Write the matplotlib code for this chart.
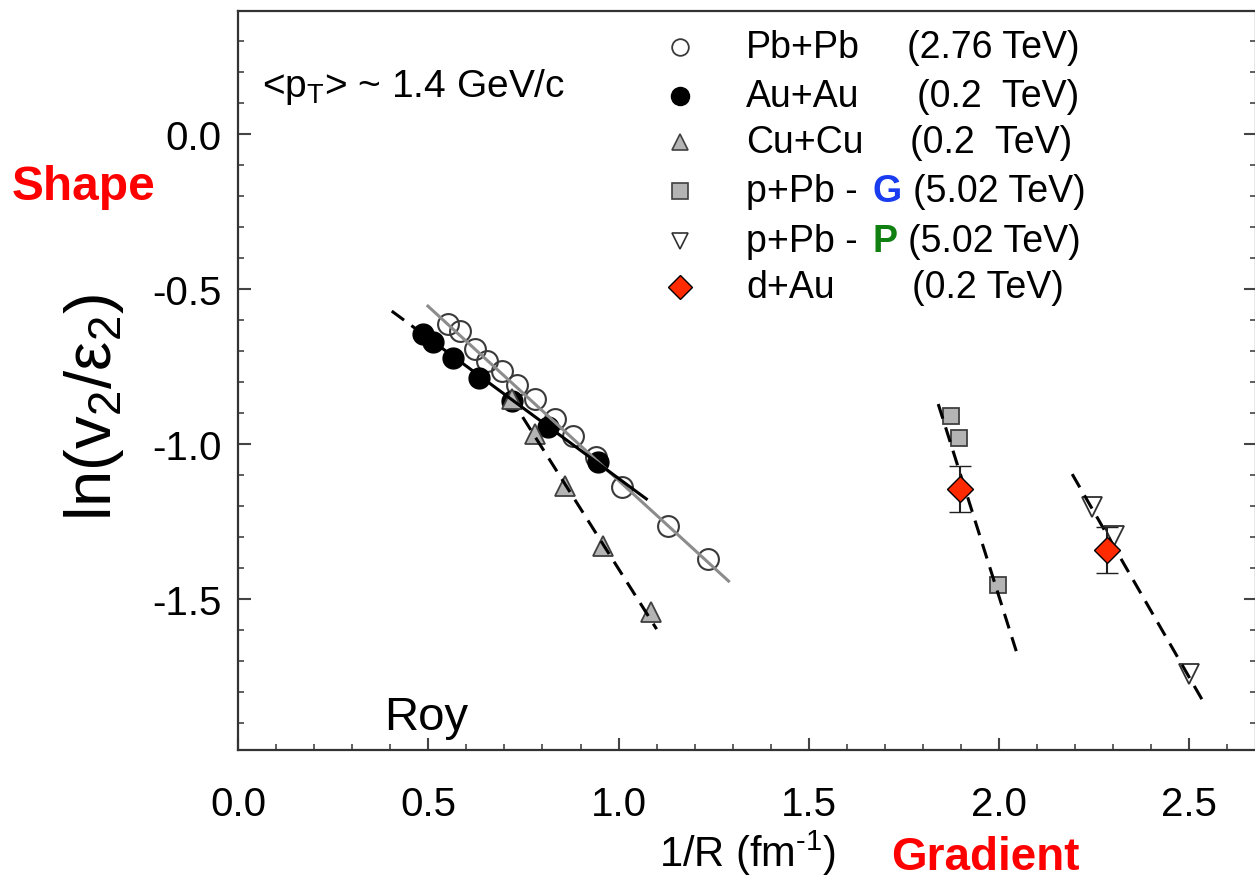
import numpy as np
import matplotlib
matplotlib.use("Agg")
import matplotlib.pyplot as plt
from matplotlib.ticker import MultipleLocator, FormatStrFormatter

plt.rcParams['font.family'] = ['Liberation Sans', 'DejaVu Sans']
plt.rcParams['mathtext.fontset'] = 'custom'
plt.rcParams['mathtext.rm'] = 'Liberation Sans'
plt.rcParams['mathtext.it'] = 'Liberation Sans:italic'
plt.rcParams['axes.unicode_minus'] = False

# Pb+Pb (2.76 TeV)
pbpb_x = [0.551, 0.583, 0.622, 0.654, 0.693, 0.732, 0.780, 0.832, 0.879, 0.942, 1.008, 1.129, 1.234]
pbpb_y = [-0.613, -0.635, -0.694, -0.732, -0.765, -0.810, -0.855, -0.919, -0.974, -1.042, -1.139, -1.265, -1.371]
pbpb_fit_x = [0.499, 1.289]
pbpb_fit_y = [-0.555, -1.442]

# Au+Au (0.2 TeV)
auau_x = [0.486, 0.512, 0.564, 0.633, 0.719, 0.814, 0.945]
auau_y = [-0.645, -0.671, -0.723, -0.787, -0.861, -0.945, -1.058]
auau_fit_x = [0.404, 1.073]
auau_fit_y = [-0.571, -1.177]

# Cu+Cu (0.2 TeV)
cucu_x = [0.719, 0.780, 0.858, 0.958, 1.084]
cucu_y = [-0.855, -0.968, -1.135, -1.329, -1.542]
cucu_fit_x = [0.748, 1.100]
cucu_fit_y = [-0.913, -1.597]

# p+Pb, Glauber
ppb_g_x = [1.874, 1.895, 1.997]
ppb_g_y = [-0.910, -0.981, -1.455]
ppb_g_fit_x = [1.840, 2.045]
ppb_g_fit_y = [-0.871, -1.668]

# p+Pb, proton size
ppb_p_x = [2.244, 2.302, 2.499]
ppb_p_y = [-1.203, -1.297, -1.742]
ppb_p_fit_x = [2.192, 2.543]
ppb_p_fit_y = [-1.097, -1.845]

# d+Au (0.2 TeV)
dau_x = [1.898, 2.283]
dau_y = [-1.145, -1.342]
dau_err = [0.075, 0.075]

fig = plt.figure(figsize=(12.55, 8.78), dpi=100)
ax = fig.add_axes([238/1255, 1 - 751/878, 1018/1255, 739/878])

dash = (0, (5, 3))
ax.plot(pbpb_fit_x, pbpb_fit_y, color='#8c8c8c', lw=2.2, zorder=3)
# Au+Au fit: dashed extension on the left, solid across the data
xs = np.linspace(auau_fit_x[0], auau_fit_x[1], 50)
ys = np.interp(xs, auau_fit_x, auau_fit_y)
ax.plot(xs[xs <= auau_x[0]], ys[xs <= auau_x[0]], color='k', lw=2.2, ls=dash, zorder=3)
ax.plot(xs[xs >= auau_x[0]], ys[xs >= auau_x[0]], color='k', lw=2.2, zorder=3)
ax.plot(cucu_fit_x, cucu_fit_y, color='k', lw=2.2, ls=dash, zorder=3)
ax.plot(ppb_g_fit_x, ppb_g_fit_y, color='k', lw=2.2, ls=dash, zorder=3)
ax.plot(ppb_p_fit_x, ppb_p_fit_y, color='k', lw=2.2, ls=dash, zorder=3)

ax.plot(pbpb_x, pbpb_y, 'o', ms=15, mfc='none', mec='#3a3a3a', mew=1.5, zorder=2)
ax.plot(auau_x, auau_y, 'o', ms=15, mfc='k', mec='k', zorder=2)
ax.plot(cucu_x, cucu_y, '^', ms=14, mfc='#b4b4b4', mec='#404040', mew=1.3, zorder=2)
ax.plot(ppb_g_x, ppb_g_y, 's', ms=12, mfc='#b4b4b4', mec='#404040', mew=1.3, zorder=2)
ax.plot(ppb_p_x, ppb_p_y, 'v', ms=14, mfc='white', mec='#303030', mew=1.3, zorder=2)
ax.errorbar(dau_x, dau_y, yerr=dau_err, fmt='D', ms=13, mfc='#ff2a00', mec='k', mew=1.0,
            ecolor='#202020', elinewidth=1.5, capsize=8, capthick=1.5, zorder=4)

ax.set_xlim(0, 2.675)
ax.set_ylim(-1.987, 0.397)
ax.xaxis.set_major_locator(MultipleLocator(0.5))
ax.xaxis.set_minor_locator(MultipleLocator(0.1))
ax.yaxis.set_major_locator(MultipleLocator(0.5))
ax.yaxis.set_minor_locator(MultipleLocator(0.1))
ax.xaxis.set_major_formatter(FormatStrFormatter('%.1f'))
ax.yaxis.set_major_formatter(FormatStrFormatter('%.1f'))
ax.set_yticks([-1.5, -1.0, -0.5, 0.0])
ax.tick_params(which='both', direction='in', right=True, top=False, color='#444444')
ax.tick_params(which='major', length=9, width=1.5, labelsize=29)
ax.tick_params(which='minor', length=4.5, width=1.2)
ax.tick_params(axis='y', which='major', pad=12)
ax.tick_params(axis='x', which='major', pad=25)
for s in ax.spines.values():
    s.set_color('#333333')
    s.set_linewidth(1.6)

ax.set_xlabel(r'1/R (fm$^{\text{-}1}$)', fontsize=30)
ax.xaxis.set_label_coords(0.501, -0.105)
ax.set_ylabel(r'ln(v$_2$/ε$_2$)', fontsize=47)
ax.yaxis.set_label_coords(-0.11, 0.4655)

ax.text(0.0236, 0.898, '<p$_\\mathrm{T}$> ~ 1.4 GeV/c', transform=ax.transAxes,
        fontsize=28, va='center', ha='left')
ax.text(0.144, 0.028, 'Roy', transform=ax.transAxes, fontsize=34, va='baseline')

fig.text(12/1255, 1 - 188/878, 'Shape', color='red', fontsize=34.5, fontweight='bold',
         va='center', ha='left')
fig.text(891/1255, 1 - 870/878, 'Gradient', color='red', fontsize=33, fontweight='bold',
         va='baseline', ha='left')

# legend, drawn by hand so the G / P letters can be coloured
rows = [0.951, 0.885, 0.823, 0.756, 0.689, 0.627]
names = ['Pb+Pb', 'Au+Au', 'Cu+Cu', 'p+Pb - ', 'p+Pb - ', 'd+Au']
energies = ['(2.76 TeV)', '(0.2  TeV)', '(0.2  TeV)', '(5.02 TeV)', '(5.02 TeV)', '(0.2 TeV)']
energy_x = [0.657, 0.667, 0.660, 0.663, 0.658, 0.662]
styles = [dict(marker='o', ms=12, mfc='white', mec='#3a3a3a', mew=1.3),
          dict(marker='o', ms=13, mfc='k', mec='k'),
          dict(marker='^', ms=12, mfc='#b4b4b4', mec='#404040', mew=1.2),
          dict(marker='s', ms=11, mfc='#b4b4b4', mec='#404040', mew=1.2),
          dict(marker='v', ms=12, mfc='white', mec='#303030', mew=1.2),
          dict(marker='D', ms=12, mfc='#ff2a00', mec='k', mew=1.0)]
for y, name, en, ex, st in zip(rows, names, energies, energy_x, styles):
    ax.plot([0.434], [y], transform=ax.transAxes, ls='none', clip_on=False, **st)
    ax.text(0.499, y, name, transform=ax.transAxes, fontsize=27, va='center', ha='left')
    ax.text(ex, y, en, transform=ax.transAxes, fontsize=27, va='center', ha='left')
ax.text(0.623, rows[3], 'G', transform=ax.transAxes, fontsize=27, va='center',
        ha='left', color='#1a3cf0', fontweight='bold')
ax.text(0.623, rows[4], 'P', transform=ax.transAxes, fontsize=27, va='center',
        ha='left', color='#108010', fontweight='bold')

fig.savefig('out.png', dpi=100)
